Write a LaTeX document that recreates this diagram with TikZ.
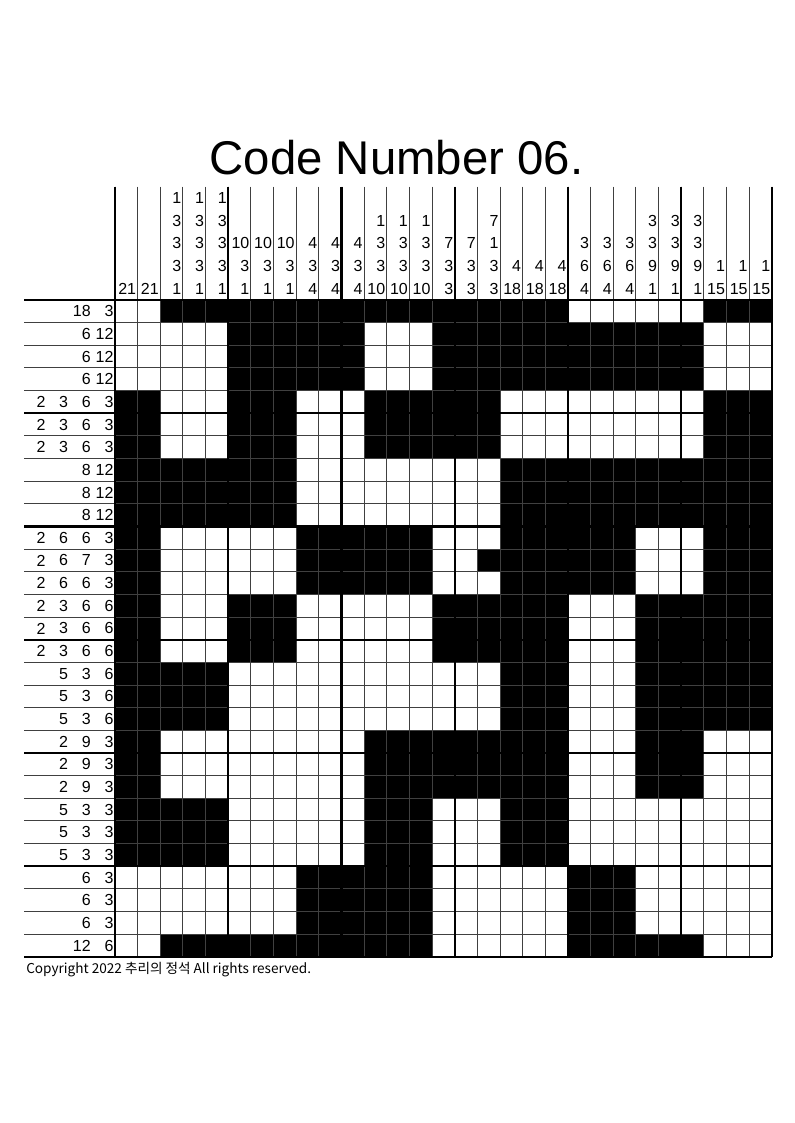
\documentclass[tikz,border=0pt]{standalone}
\usepackage{fontspec}
\setmainfont{Liberation Sans}
\newfontfamily\krfont{Noto Sans CJK KR}
\tikzset{
  thin grid/.style={line width=0.7pt, draw=black!75},
  thick grid/.style={line width=1.8pt, draw=black},
  clue/.style={anchor=east, inner sep=1pt, font=\fontsize{12}{12}\selectfont},
}
\begin{document}
\begin{tikzpicture}[x=0.75pt,y=-0.75pt]
% Parameters
\def\cs{22.65}
\def\gx{115}
\def\gy{300}
\def\n{29}
\pgfmathsetmacro\gxEnd{\gx+\n*\cs}
\pgfmathsetmacro\gyEnd{\gy+\n*\cs}
\pgfmathsetmacro\lx{\gx-4*\cs}
\pgfmathsetmacro\hy{\gy-5*\cs}

\useasboundingbox (0,0) rectangle (794,1123);

% Title
\node[font=\fontsize{35.5}{36}\selectfont, anchor=base, inner sep=0] (title) at (396.5,175) {Code Number 06.};

% Black cells: first row/last row/{first col/last col, ...}
\foreach \r/\s/\runs in {1/1/{3/20,27/29}, 2/4/{6/11,15/26}, 5/7/{1/2,6/8,12/17,27/29},
  8/10/{1/8,18/29}, 11/13/{1/2,9/14,18/23,27/29}, 12/12/{17/17},
  14/16/{1/2,6/8,15/20,24/29}, 17/19/{1/5,18/20,24/29}, 20/22/{1/2,12/20,24/26},
  23/25/{1/5,12/14,18/20}, 26/28/{9/14,21/23}, 29/29/{3/14,21/26}}{
  \foreach \a/\b in \runs{
    \fill (\gx+\a*\cs-\cs,\gy+\r*\cs-\cs) rectangle (\gx+\b*\cs,\gy+\s*\cs);
  }
}

% Grid lines
\foreach \i in {0,...,29}{
  \draw[thin grid] (\lx,\gy+\i*\cs) -- (\gxEnd,\gy+\i*\cs);
  \draw[thin grid] (\gx+\i*\cs,\hy) -- (\gx+\i*\cs,\gyEnd);
}
\foreach \i in {0,5,10,15,20,25,29}{
  \draw[thick grid] (\lx,\gy+\i*\cs) -- (\gxEnd,\gy+\i*\cs);
  \draw[thick grid] (\gx+\i*\cs,\hy) -- (\gx+\i*\cs,\gyEnd);
}

% Column clues (bottom-up)
\foreach \c/\clues in {1/{21}, 2/{21}, 3/{1,3,3,3,1}, 4/{1,3,3,3,1}, 5/{1,3,3,3,1},
  6/{1,3,10}, 7/{1,3,10}, 8/{1,3,10}, 9/{4,3,4}, 10/{4,3,4}, 11/{4,3,4},
  12/{10,3,3,1}, 13/{10,3,3,1}, 14/{10,3,3,1}, 15/{3,3,7}, 16/{3,3,7}, 17/{3,3,1,7},
  18/{18,4}, 19/{18,4}, 20/{18,4}, 21/{4,6,3}, 22/{4,6,3}, 23/{4,6,3},
  24/{1,9,3,3}, 25/{1,9,3,3}, 26/{1,9,3,3}, 27/{15,1}, 28/{15,1}, 29/{15,1}}{
  \foreach \v [count=\k] in \clues{
    \node[clue] (col-\c-\k) at (\gx+\c*\cs,\gy-\k*\cs+0.5*\cs) {\v};
  }
}

% Row clues (right to left)
\foreach \r/\clues in {1/{3,18}, 2/{12,6}, 3/{12,6}, 4/{12,6},
  5/{3,6,3,2}, 6/{3,6,3,2}, 7/{3,6,3,2}, 8/{12,8}, 9/{12,8}, 10/{12,8},
  11/{3,6,6,2}, 12/{3,7,6,2}, 13/{3,6,6,2}, 14/{6,6,3,2}, 15/{6,6,3,2}, 16/{6,6,3,2},
  17/{6,3,5}, 18/{6,3,5}, 19/{6,3,5}, 20/{3,9,2}, 21/{3,9,2}, 22/{3,9,2},
  23/{3,3,5}, 24/{3,3,5}, 25/{3,3,5}, 26/{3,6}, 27/{3,6}, 28/{3,6}, 29/{6,12}}{
  \foreach \v [count=\k] in \clues{
    \node[clue] (row-\r-\k) at (\gx-\k*\cs+\cs,\gy+\r*\cs-0.5*\cs) {\v};
  }
}

% Footer
\node[font=\krfont\fontsize{10.2}{11}\selectfont, anchor=base west, inner sep=0] (copyright) at (26,973) {Copyright 2022 추리의 정석 All rights reserved.};
\end{tikzpicture}
\end{document}
